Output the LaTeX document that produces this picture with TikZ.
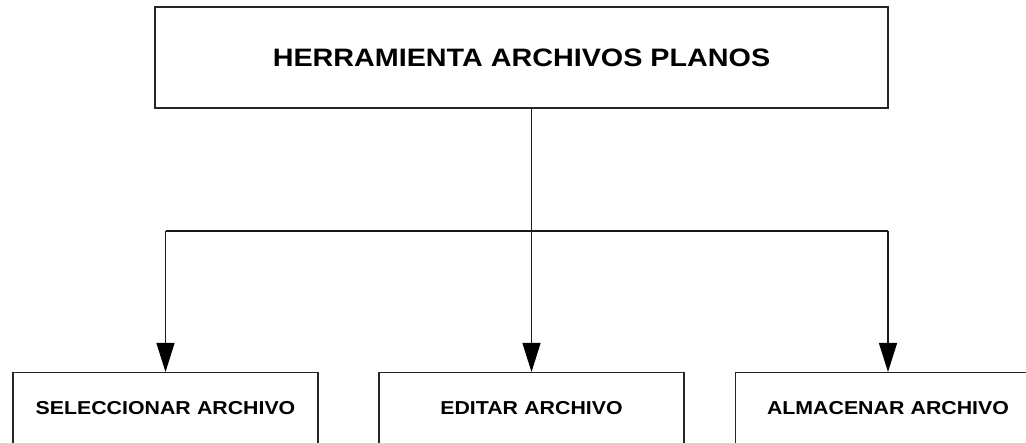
\documentclass[tikz,border=0pt]{standalone}
\usepackage{fontspec}
\setmainfont{Liberation Sans}[FakeStretch=1.14]
\usetikzlibrary{arrows.meta}
\begin{document}
\begin{tikzpicture}[x=1pt,y=-1pt,
  box/.style={draw=black!85, line width=1.2pt, fill=white, inner sep=0pt},
  topbox/.style={box, minimum width=733pt, minimum height=101pt,
    font=\fontsize{25.2}{30}\selectfont\bfseries},
  subbox/.style={box, anchor=north, minimum width=305pt, text width=305pt, align=center,
    text height=13.3pt, text depth=20pt, inner ysep=28.4pt,
    font=\fontsize{18.7}{22}\selectfont\bfseries},
  conn/.style={draw=black!90, line width=1.1pt},
  arr/.style={conn, -{Triangle[width=18pt,length=29pt,color=black,fill=black]}}]
\useasboundingbox (0,0) rectangle (1026,443);
\fill[white] (0,0) rectangle (1026,443);
\clip (0,0) rectangle (1026,443);
\node[topbox] (top) at (521.5,57.5) {HERRAMIENTA ARCHIVOS PLANOS};
\node[subbox] (sel) at (165.5,372) {SELECCIONAR ARCHIVO};
\node[subbox] (edi) at (531.5,372) {EDITAR ARCHIVO};
\node[subbox] (alm) at (888,372) {ALMACENAR ARCHIVO};
\coordinate (bus) at (0,231);
\draw[conn] (bus -| sel.north) -- (bus -| alm.north);
\draw[arr] (top.south -| edi.north) -- (edi.north);
\draw[arr] (bus -| sel.north) -- (sel.north);
\draw[arr] (bus -| alm.north) -- (alm.north);
\end{tikzpicture}
\end{document}
